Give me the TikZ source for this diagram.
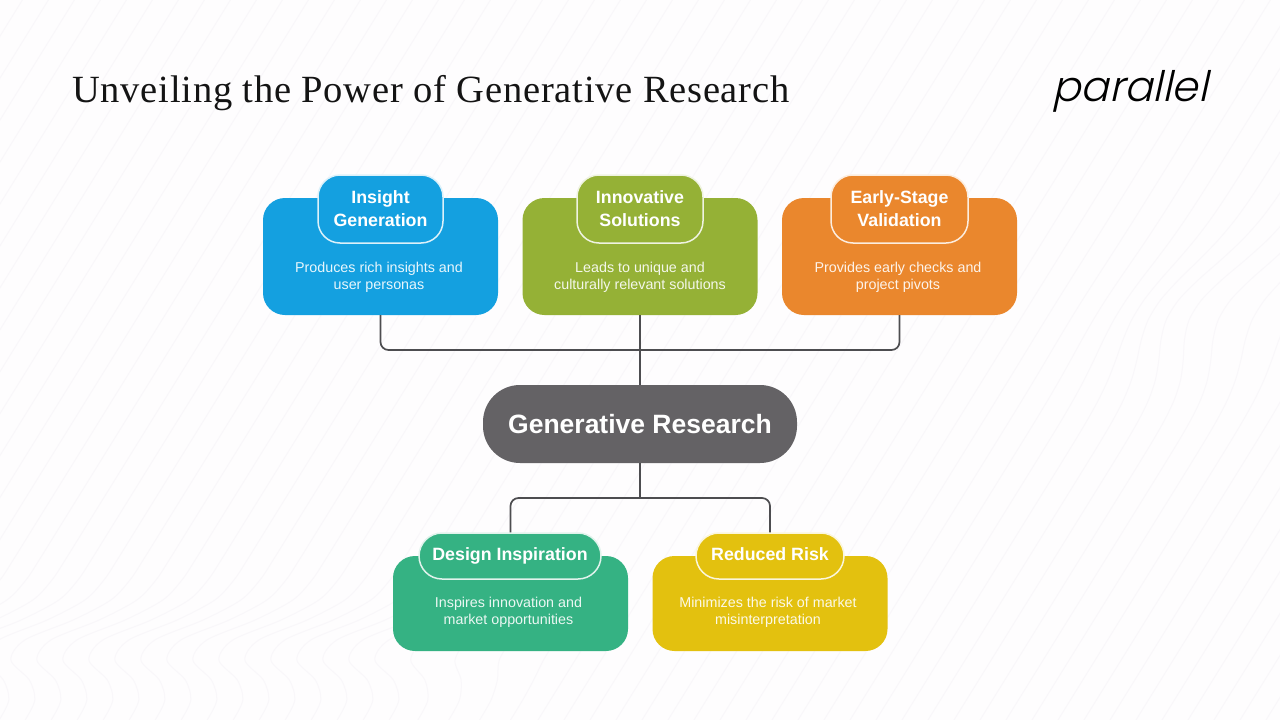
\documentclass[tikz,border=0pt]{standalone}
\usepackage{fontspec}
\setmainfont{Liberation Sans}
\newfontfamily\titlefont[LetterSpace=2.0]{Liberation Serif}
\newfontfamily\logofont[FakeSlant=0.22]{Poppins Light}
\definecolor{bgc}{HTML}{FEFDFE}
\definecolor{bgl}{HTML}{F9F7FA}
\definecolor{cblue}{HTML}{14A0E0}
\definecolor{cgreen}{HTML}{95B136}
\definecolor{corange}{HTML}{EA872D}
\definecolor{cteal}{HTML}{35B283}
\definecolor{cyellow}{HTML}{E3C10F}
\definecolor{cgrey}{HTML}{646265}
\definecolor{cline}{HTML}{4D4D50}
\tikzset{
  bgline/.style={draw=bgl,line width=1pt},
  cardbox/.style={rectangle,rounded corners=22pt,minimum width=235pt,minimum height=117pt,inner sep=0pt},
  lowcard/.style={cardbox,minimum height=95pt},
  tabbox/.style={rectangle,rounded corners=22pt,draw=white!85!#1,fill=#1,line width=1.5pt,inner sep=0pt,minimum height=68pt,text=white,align=center,font=\bfseries\fontsize{17.8}{23}\selectfont},
  lowtab/.style={tabbox=#1,minimum height=46pt,text height=13pt,text depth=4pt},
  desc/.style={text=white!90!#1,align=center,inner sep=0pt,font=\fontsize{14.3}{17}\selectfont},
  conn/.style={draw=cline,line width=1.7pt,rounded corners=8pt},
}
\begin{document}
\begin{tikzpicture}[x=1pt,y=-1pt]
\useasboundingbox (0,0) rectangle (1280,720);
\fill[bgc] (0,0) rectangle (1280,720);
\begin{scope}
\clip (0,0) rectangle (1280,720);
\foreach \s in {-450,-424,...,1300}{
  \pgfmathsetmacro{\wl}{max(0,min(1,(520-\s)/100))}
  \pgfmathsetmacro{\wr}{exp(-((\s-980)/90)^2)}
  \draw[bgline] plot[smooth,domain=0:720,samples=37,variable=\t]
    ({\s+0.62*(720-\t)-40*\wr*exp(-((\t-310)/60)^2)-\wl*(75*exp(-((\t-650)/33)^2)+18*exp(-((\t-720)/40)^2))},{\t});
}
\end{scope}
\node[anchor=west,inner sep=0pt,font=\titlefont\fontsize{38.5}{42}\selectfont,text=black!92] (title) at (72,93.5) {Unveiling the Power of Generative Research};
\node[anchor=center,inner sep=0pt,font=\logofont\fontsize{42}{46}\selectfont,text=black] (logo) at (1130,91) {parallel};

\coordinate (bus) at (640,350);
\coordinate (lowbus) at (640,498);

\node[cardbox,fill=cblue] (c1) at (380.5,256.5) {};
\node[cardbox,fill=cgreen] (c2) at (640,256.5) {};
\node[cardbox,fill=corange] (c3) at (899.5,256.5) {};
\node[rectangle,rounded corners=37pt,fill=cgrey,minimum width=314pt,minimum height=78pt,inner sep=0pt,text=white,font=\bfseries\fontsize{26.5}{32}\selectfont] (center) at (640,424) {Generative Research};
\node[lowcard,fill=cteal] (c4) at (510.5,603.5) {};
\node[lowcard,fill=cyellow] (c5) at (770,603.5) {};

\draw[conn] (c1.south) |- (bus) -| (c3.south);
\draw[conn] (c2.south) -- (center.north);
\draw[conn] (center.south) -- (lowbus);
\draw[conn] (c4.north) ++(0,-23) coordinate (t4top) |- (lowbus) -| ([yshift=23pt]c5.north);

\node[tabbox=cblue,minimum width=125pt] (t1) at (380.5,209) {Insight\\Generation};
\node[tabbox=cgreen,minimum width=126pt] (t2) at (640,209) {Innovative\\Solutions};
\node[tabbox=corange,minimum width=137pt] (t3) at (899.5,209) {Early-Stage\\Validation};
\node[lowtab=cteal,rounded corners=23pt,minimum width=182pt] (t4) at (510,556) {Design Inspiration};
\node[lowtab=cyellow,rounded corners=23pt,minimum width=148pt] (t5) at (770,556) {Reduced Risk};

\node[desc=cblue] (d1) at (379,277.5) {Produces rich insights and\\user personas};
\node[desc=cgreen] (d2) at (640,277.5) {Leads to unique and\\culturally relevant solutions};
\node[desc=corange] (d3) at (898,277.5) {Provides early checks and\\project pivots};
\node[desc=cteal] (d4) at (508.5,612.5) {Inspires innovation and\\market opportunities};
\node[desc=cyellow] (d5) at (768,612.5) {Minimizes the risk of market\\misinterpretation};
\end{tikzpicture}
\end{document}
